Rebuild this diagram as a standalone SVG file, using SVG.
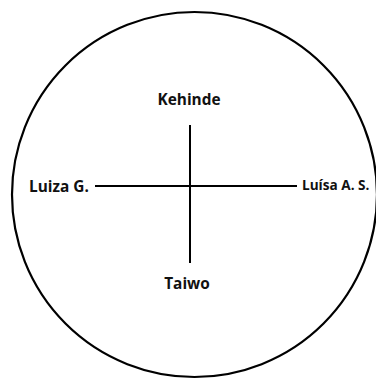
<svg xmlns="http://www.w3.org/2000/svg" width="376" height="379" viewBox="0 0 376 379">
<style>
.lbl{font-family:"Open Sans","Noto Sans","DejaVu Sans",sans-serif;font-weight:700;font-size:15.4px;fill:#111}
.ln{stroke:#000;stroke-width:2;fill:none}
</style>
<rect width="376" height="379" fill="#fff"/>
<circle cx="194.5" cy="194.5" r="182.5" fill="none" stroke="#000" stroke-width="2.2"/>
<g id="connectors">
<line class="ln" x1="190" y1="125" x2="190" y2="263"/>
<line class="ln" x1="95" y1="186" x2="297" y2="186"/>
</g>
<g id="kehinde"><text class="lbl" x="189" y="105" text-anchor="middle">Kehinde</text></g>
<g id="taiwo"><text class="lbl" x="187" y="289" text-anchor="middle">Taiwo</text></g>
<g id="luiza"><text class="lbl" x="29" y="192">Luiza G.</text></g>
<g id="luisa"><text class="lbl" x="302" y="190" style="font-size:13.6px">Luísa A. S.</text></g>
</svg>
